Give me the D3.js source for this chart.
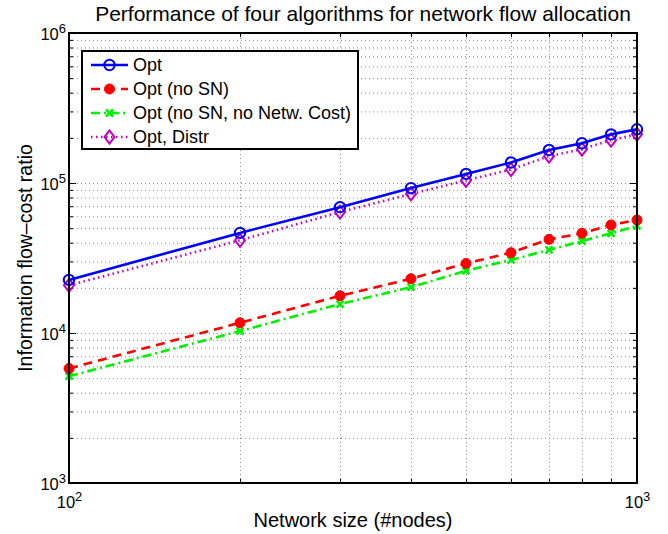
<!DOCTYPE html>
<html>
<head>
<meta charset="utf-8">
<script src="https://cdn.jsdelivr.net/npm/d3@7"></script>
<style>
  html, body { margin: 0; padding: 0; background: #fff; }
  svg { display: block; font-family: "Liberation Sans", Arial, Helvetica, sans-serif; }
  .grid line { stroke: #8a8a8a; stroke-width: 1; stroke-dasharray: 1 3; }
  .grid path { display: none; }
  .ticks path { display: none; }
  .ticks line { stroke: #000; stroke-width: 1; }
</style>
</head>
<body>
<svg id="chart" width="668" height="534"></svg>
<script>
// Network sizes (number of nodes)
const nodes = [100, 200, 300, 400, 500, 600, 700, 800, 900, 1000];

// Information flow-cost ratio for each algorithm
const opt         = [22600, 46500, 69000, 92500, 115000, 137000, 166000, 184000, 211000, 228000];
const optNoSN     = [5800, 11700, 17700, 23000, 29100, 34300, 42100, 46200, 52500, 56700];
const optNoSNCost = [5150, 10300, 15600, 20200, 26000, 30700, 35800, 41000, 46200, 51700];
const optDistr    = [20800, 41500, 64000, 84500, 104000, 123000, 151000, 168000, 193000, 211000];

const seriesNames = ["Opt", "Opt (no SN)", "Opt (no SN, no Netw. Cost)", "Opt, Distr"];

const xMajor = [100, 1000];
const yMajor = [1e3, 1e4, 1e5, 1e6];

const W = 668, H = 534;
const m = { left: 69, right: 31, top: 33, bottom: 51 };
const iw = W - m.left - m.right, ih = H - m.top - m.bottom;

const svg = d3.select("#chart");
const g = svg.append("g").attr("transform", `translate(${m.left},${m.top})`);

const x = d3.scaleLog().domain([100, 1000]).range([0, iw]);
const y = d3.scaleLog().domain([1e3, 1e6]).range([ih, 0]);

const xAll = x.ticks();
const yAll = y.ticks();
const xMinor = xAll.filter(v => !xMajor.includes(v));
const yMinor = yAll.filter(v => !yMajor.includes(v));

// dotted grid at every major and minor decade step
g.append("g").attr("class", "grid")
  .call(d3.axisLeft(y).tickValues(yAll.filter(v => v > 1e3 && v < 1e6)).tickSize(-iw).tickFormat(""));
g.append("g").attr("class", "grid").attr("transform", `translate(0,${ih})`)
  .call(d3.axisBottom(x).tickValues(xMinor).tickSize(-ih).tickFormat(""));

// inward tick marks on all four sides
function tickSet(axisFn, vals, len, tr) {
  const a = g.append("g").attr("class", "ticks");
  if (tr) a.attr("transform", tr);
  a.call(axisFn.tickValues(vals).tickSizeInner(-len).tickSizeOuter(0).tickFormat(""));
}
tickSet(d3.axisLeft(y), yMajor, 7);
tickSet(d3.axisLeft(y), yMinor, 4);
tickSet(d3.axisRight(y), yMajor, 7, `translate(${iw},0)`);
tickSet(d3.axisRight(y), yMinor, 4, `translate(${iw},0)`);
tickSet(d3.axisBottom(x), xMinor, 4, `translate(0,${ih})`);
tickSet(d3.axisTop(x), xMinor, 4);

// power-of-ten tick labels
function powerLabel(sel) {
  sel.each(function(d) {
    const t = d3.select(this).attr("font-size", 16.5).attr("fill", "#000")
      .attr("font-family", "Liberation Sans, Arial, sans-serif");
    t.append("tspan").text("10");
    t.append("tspan").attr("dy", "-0.55em").attr("font-size", 13).text(Math.round(Math.log10(d)));
  });
}
const yLab = g.append("g").call(d3.axisLeft(y).tickValues(yMajor).tickSize(0).tickPadding(3).tickFormat(""));
yLab.select(".domain").remove();
yLab.selectAll(".tick text").attr("dy", "0.4em").call(powerLabel);
const xLab = g.append("g").attr("transform", `translate(0,${ih})`)
  .call(d3.axisBottom(x).tickValues(xMajor).tickSize(0).tickPadding(13).tickFormat(""));
xLab.select(".domain").remove();
xLab.selectAll(".tick text").attr("dy", "0.71em").call(powerLabel);

// series
const series = [
  { name: seriesNames[0], values: opt,         color: "#0000ff", dash: null,       marker: "circle" },
  { name: seriesNames[1], values: optNoSN,     color: "#ff0000", dash: "9 6",      marker: "dot" },
  { name: seriesNames[2], values: optNoSNCost, color: "#00f000", dash: "9 4 2 4",  marker: "cross" },
  { name: seriesNames[3], values: optDistr,    color: "#bf00bf", dash: "1.5 3.5",  marker: "diamond" }
];

const line = d3.line().x(d => x(d[0])).y(d => y(d[1]));

function drawMarker(sel, type, color) {
  if (type === "circle") {
    sel.append("circle").attr("r", 5.2).attr("fill", "none").attr("stroke", color).attr("stroke-width", 2);
  } else if (type === "dot") {
    sel.append("circle").attr("r", 5).attr("fill", color).attr("stroke", color).attr("stroke-width", 1);
  } else if (type === "cross") {
    sel.append("path").attr("d", "M-3.5,-3.5L3.5,3.5M-3.5,3.5L3.5,-3.5")
      .attr("stroke", color).attr("stroke-width", 2.5).attr("fill", "none");
  } else if (type === "diamond") {
    sel.append("path").attr("d", "M0,-6.5L5,0L0,6.5L-5,0Z")
      .attr("stroke", color).attr("stroke-width", 2).attr("fill", "none");
  }
}

const plot = g.append("g");
// draw back-to-front so Opt sits on top of Opt, Distr
[series[2], series[1], series[3], series[0]].forEach(s => {
  const pts = nodes.map((n, i) => [n, s.values[i]]);
  plot.append("path").datum(pts).attr("d", line).attr("fill", "none")
    .attr("stroke", s.color).attr("stroke-width", 2.6)
    .attr("stroke-dasharray", s.dash);
  plot.selectAll(null).data(pts).enter().append("g")
    .attr("transform", d => `translate(${x(d[0])},${y(d[1])})`)
    .each(function() { drawMarker(d3.select(this), s.marker, s.color); });
});

// axes box
g.append("rect").attr("width", iw).attr("height", ih).attr("fill", "none")
  .attr("stroke", "#000").attr("stroke-width", 2);

// legend
const lg = g.append("g").attr("transform", "translate(13,18)");
lg.append("rect").attr("width", 276).attr("height", 98).attr("fill", "#fff")
  .attr("stroke", "#000").attr("stroke-width", 2);
series.forEach((s, i) => {
  const r = lg.append("g").attr("transform", `translate(0,${14 + i * 24})`);
  r.append("line").attr("x1", 9).attr("x2", 46).attr("y1", 0).attr("y2", 0)
    .attr("stroke", s.color).attr("stroke-width", 2.6).attr("stroke-dasharray", s.dash);
  drawMarker(r.append("g").attr("transform", "translate(27.5,0)"), s.marker, s.color);
  r.append("text").attr("x", 51).attr("y", 0).attr("dy", "0.36em")
    .attr("font-size", 18).attr("fill", "#000").text(s.name);
});

// title and axis labels
svg.append("text").attr("x", 363).attr("y", 21).attr("text-anchor", "middle")
  .attr("font-size", 21).attr("fill", "#000")
  .text("Performance of four algorithms for network flow allocation");
svg.append("text").attr("x", 353).attr("y", 527).attr("text-anchor", "middle")
  .attr("font-size", 20).attr("fill", "#000").text("Network size (#nodes)");
svg.append("text").attr("transform", "translate(32,258) rotate(-90)").attr("text-anchor", "middle")
  .attr("font-size", 19.5).attr("fill", "#000").text("Information flow\u2013cost ratio");
</script>
</body>
</html>
